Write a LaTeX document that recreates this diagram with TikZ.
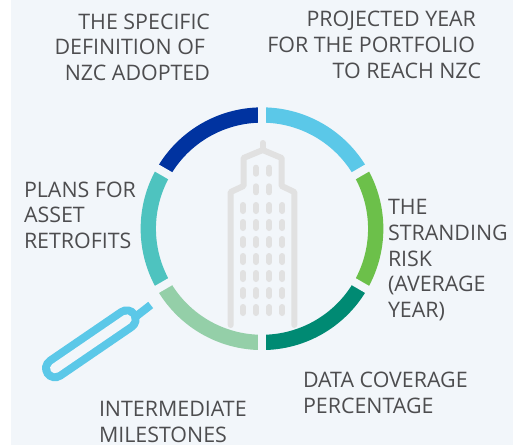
\documentclass[tikz,border=0pt]{standalone}
\usepackage{fontspec}
\usetikzlibrary{calc}
\setmainfont{Open Sans}
\definecolor{bgc}{HTML}{F2F6FA}
\definecolor{txt}{HTML}{4D4D4F}
\definecolor{bld}{HTML}{E1E1E1}
\definecolor{lens}{HTML}{5BC8E8}
\tikzset{
  lbl/.style={font=\fontsize{21.4}{25.7}\selectfont,text=txt,inner sep=0pt,outer sep=0pt},
  seg/.style={line width=15.3pt,line cap=butt},
  gap/.style={line width=8pt,draw=bgc},
  bldline/.style={draw=bld,line width=6pt,line cap=round,line join=round},
  win/.style={draw=bld,line width=6pt,line cap=round}
}
\begin{document}
\begin{tikzpicture}[x=1pt,y=-1pt]
\useasboundingbox (0,0) rectangle (519,445);
\fill[white] (0,0) rectangle (519,445);
\fill[bgc] (11,0) rectangle (513,445);
\coordinate (c) at (262,228.7);
\def\R{113.7}
\foreach \a/\b/\col in {90/30/5BC8E8,30/-30/6CC04A,-30/-90/008A73,-90/-150/94CFA8,-150/-210/4EC3BF,-210/-270/0033A0}{
  \definecolor{segc}{HTML}{\col}
  \draw[seg,draw=segc] plot[domain=\a:\b,samples=61,smooth] ({262+\R*cos(\x)},{228.7-\R*sin(\x)});
}
\foreach \a in {90,30,-30,-90,-150,-210}{
  \draw[gap] ($(c)+({98*cos(\a)},{-98*sin(\a)})$) -- ($(c)+({128*cos(\a)},{-128*sin(\a)})$);
}
% building
\draw[bldline] (230.7,325) -- (230.7,192) -- (243.5,186) -- (243.5,158) -- (262.7,150) -- (281.7,158) -- (281.7,186) -- (294.3,192) -- (294.3,325);
\draw[bldline] (262.7,150) -- (262.7,143);
\foreach \x in {256,269.3}{
  \foreach \y in {170.7,189.3}{
    \draw[win] (\x,\y-3) -- (\x,\y+3);
  }
}
\foreach \x in {243,256,269.3,282.3}{
  \foreach \y in {208,225,242,259,276,293,310}{
    \draw[win] (\x,\y-3) -- (\x,\y+3);
  }
}
% magnifier
\draw[draw=lens,line width=8pt] (134,318) -- (150.7,305);
\draw[draw=lens,line width=26pt,line cap=round] (55,368.3) -- (126.7,319.3);
\draw[draw=bgc,line width=10pt,line cap=round] (55,368.3) -- (126.7,319.3);
% labels
\node[lbl,anchor=north east,align=right] (t1) at (210,13.5) {THE SPECIFIC\\DEFINITION OF\rule{5pt}{0pt}\\NZC ADOPTED};
\node[lbl,anchor=north east,align=right] (t2) at (481,11.2) {PROJECTED YEAR\rule{5pt}{0pt}\\FOR THE PORTFOLIO\rule{6pt}{0pt}\\TO REACH NZC};
\node[lbl,anchor=north west,align=left] (t3) at (24,181.7) {PLANS FOR\\ASSET\\RETROFITS};
\node[lbl,anchor=north west,align=left] (t4) at (388,199.5) {THE\\STRANDING\\RISK\\(AVERAGE\\YEAR)};
\node[lbl,anchor=north west,align=left] (t5) at (303,372.2) {DATA COVERAGE\\PERCENTAGE};
\node[lbl,anchor=north west,align=left] (t6) at (99,401.2) {INTERMEDIATE\\MILESTONES};
\end{tikzpicture}
\end{document}
